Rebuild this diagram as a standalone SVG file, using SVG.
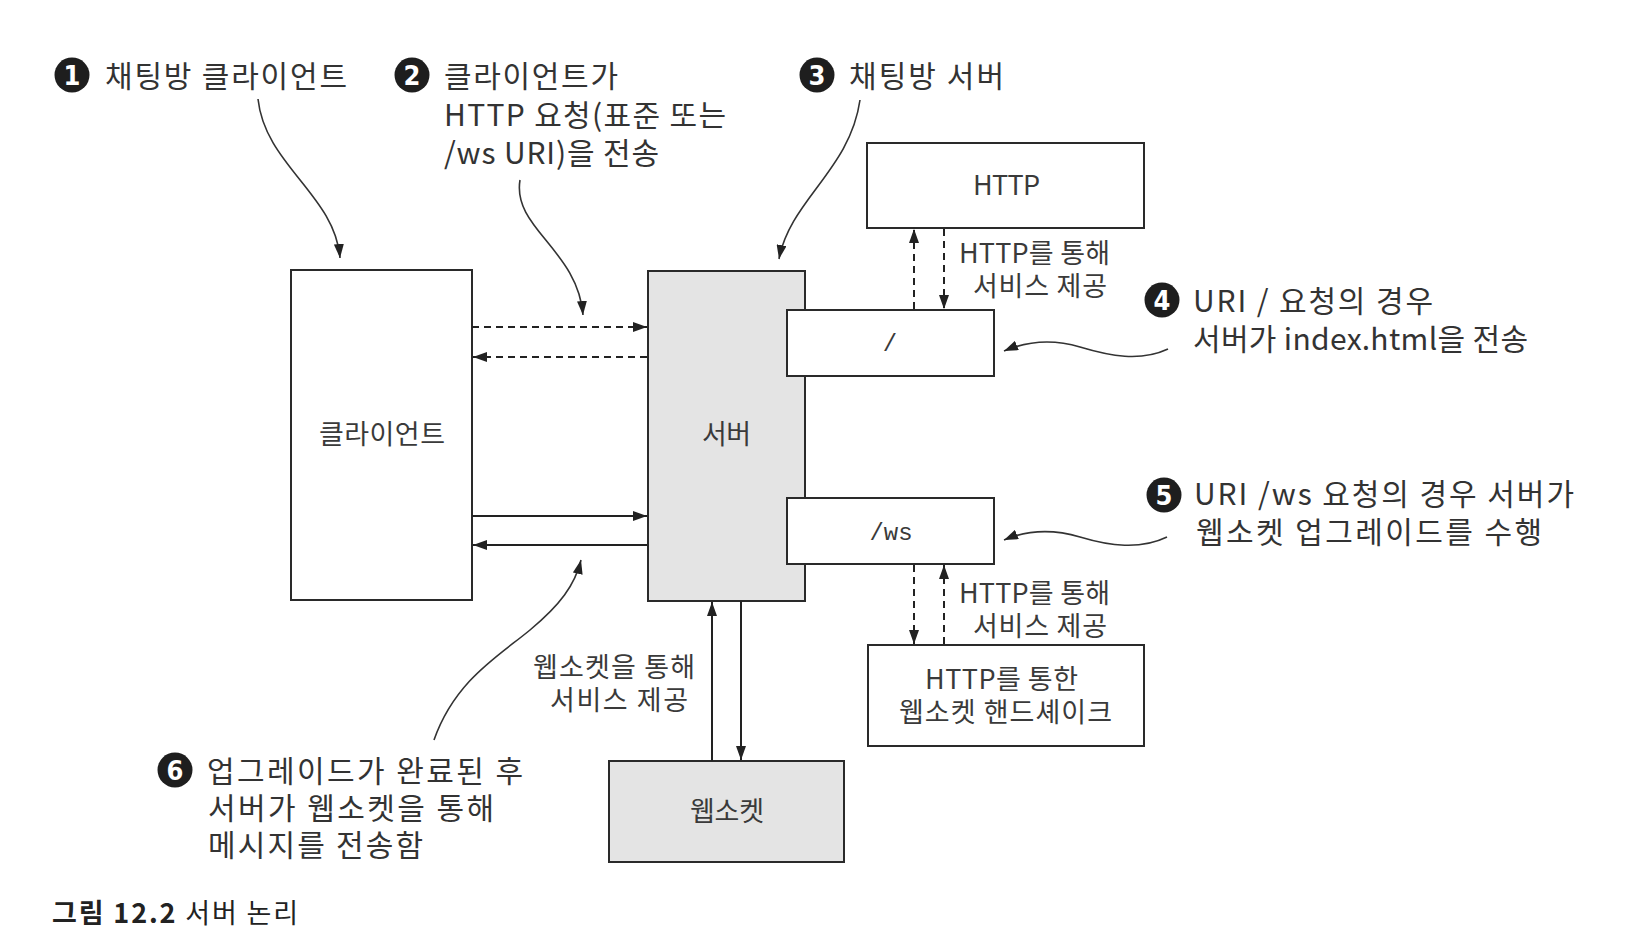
<svg xmlns="http://www.w3.org/2000/svg" width="1640" height="944" viewBox="0 0 1640 944">
  <defs>
    <marker id="arrow" viewBox="0 0 14 10" refX="14" refY="5" markerWidth="14" markerHeight="10" markerUnits="userSpaceOnUse" orient="auto">
      <path d="M0,0 L14,5 L0,10 z" fill="#222"/>
    </marker>
    <style>
      .box { fill: #ffffff; stroke: #2a2a2a; stroke-width: 2; }
      .shaded { fill: #e4e4e4; stroke: #2a2a2a; stroke-width: 2; }
      .label { font-family: "Noto Sans CJK KR", "Noto Sans", sans-serif; font-size: 27px; fill: #3a3a3a; }
      .mono { font-family: "Liberation Mono", "DejaVu Sans Mono", monospace; font-size: 24px; fill: #3a3a3a; }
      .note { font-family: "Noto Sans CJK KR", "Noto Sans", sans-serif; font-size: 30px; fill: #333333; }
      .badge { fill: #1e1e1e; }
      .badge-num { font-family: "DejaVu Sans Condensed", "Liberation Sans", Arial, sans-serif; font-size: 27px; font-weight: bold; fill: #ffffff; }
      .link { fill: none; stroke: #222; stroke-width: 2; }
      .dash { fill: none; stroke: #222; stroke-width: 2; stroke-dasharray: 7 5; }
      .callout { fill: none; stroke: #333; stroke-width: 1.6; }
      .caption { font-family: "Noto Sans CJK KR", "Noto Sans", sans-serif; font-size: 27px; fill: #222; }
    </style>
  </defs>

  <rect width="1640" height="944" fill="#ffffff"/>

  <!-- nodes -->
  <g id="client">
    <rect class="box" x="291" y="270" width="181" height="330"/>
    <text class="label" x="319" y="444" textLength="126">클라이언트</text>
  </g>

  <g id="server">
    <rect class="shaded" x="648" y="271" width="157" height="330"/>
    <text class="label" x="702" y="444" textLength="49">서버</text>
  </g>

  <g id="route-root">
    <rect class="box" x="787" y="310" width="207" height="66"/>
    <text class="mono" x="890" y="351" text-anchor="middle">/</text>
  </g>

  <g id="route-ws">
    <rect class="box" x="787" y="498" width="207" height="66"/>
    <text class="mono" x="891" y="540" text-anchor="middle">/ws</text>
  </g>

  <g id="http">
    <rect class="box" x="867" y="143" width="277" height="85"/>
    <text class="label" x="973" y="195" textLength="67">HTTP</text>
  </g>

  <g id="handshake">
    <rect class="box" x="868" y="645" width="276" height="101"/>
    <text class="label" x="925" y="689" textLength="153">HTTP를 통한</text>
    <text class="label" x="899" y="722" textLength="213">웹소켓 핸드셰이크</text>
  </g>

  <g id="websocket">
    <rect class="shaded" x="609" y="761" width="235" height="101"/>
    <text class="label" x="690" y="821" textLength="74">웹소켓</text>
  </g>

  <!-- connectors -->
  <g id="connectors">
    <!-- client <-> server over HTTP -->
    <line class="dash" x1="472" y1="327" x2="647" y2="327" marker-end="url(#arrow)"/>
    <line class="dash" x1="647" y1="357" x2="473" y2="357" marker-end="url(#arrow)"/>
    <!-- client <-> server over websocket -->
    <line class="link" x1="472" y1="516" x2="647" y2="516" marker-end="url(#arrow)"/>
    <line class="link" x1="647" y1="545" x2="473" y2="545" marker-end="url(#arrow)"/>

    <!-- "/" route <-> HTTP -->
    <line class="dash" x1="914" y1="309" x2="914" y2="229" marker-end="url(#arrow)"/>
    <line class="dash" x1="944" y1="229" x2="944" y2="309" marker-end="url(#arrow)"/>
    <text class="label" x="959" y="263" textLength="151">HTTP를 통해</text>
    <text class="label" x="973" y="296" textLength="134">서비스 제공</text>

    <!-- "/ws" route <-> handshake -->
    <line class="dash" x1="914" y1="565" x2="914" y2="644" marker-end="url(#arrow)"/>
    <line class="dash" x1="944" y1="644" x2="944" y2="565" marker-end="url(#arrow)"/>
    <text class="label" x="959" y="603" textLength="151">HTTP를 통해</text>
    <text class="label" x="973" y="636" textLength="134">서비스 제공</text>

    <!-- server <-> websocket -->
    <line class="link" x1="712" y1="761" x2="712" y2="602" marker-end="url(#arrow)"/>
    <line class="link" x1="741" y1="601" x2="741" y2="760" marker-end="url(#arrow)"/>
    <text class="label" x="533" y="677" textLength="162">웹소켓을 통해</text>
    <text class="label" x="550" y="710" textLength="138">서비스 제공</text>

    <!-- callout pointers -->
    <path class="callout" d="M258,99 C265,165 335,195 340,258" marker-end="url(#arrow)"/>
    <path class="callout" d="M520,180 C512,228 578,250 583,315" marker-end="url(#arrow)"/>
    <path class="callout" d="M860,100 C850,170 790,200 779,259" marker-end="url(#arrow)"/>
    <path class="callout" d="M1168,349 C1140,362 1110,356 1080,347 C1050,338 1025,342 1004,351" marker-end="url(#arrow)"/>
    <path class="callout" d="M1167,537 C1140,550 1110,546 1080,537 C1050,528 1025,531 1004,540" marker-end="url(#arrow)"/>
    <path class="callout" d="M434,740 C455,680 500,655 530,630 C560,605 575,585 581,560" marker-end="url(#arrow)"/>
  </g>

  <!-- numbered notes -->
  <g id="note1">
    <circle class="badge" cx="72" cy="75" r="17.5"/>
    <text class="badge-num" x="72" y="85" text-anchor="middle">1</text>
    <text class="note" x="105" y="87" textLength="242">채팅방 클라이언트</text>
  </g>

  <g id="note2">
    <circle class="badge" cx="412" cy="75" r="17.5"/>
    <text class="badge-num" x="412" y="85" text-anchor="middle">2</text>
    <text class="note" x="444" y="87" textLength="174">클라이언트가</text>
    <text class="note" x="444" y="126" textLength="282">HTTP 요청(표준 또는</text>
    <text class="note" x="444" y="164" textLength="215">/ws URI)을 전송</text>
  </g>

  <g id="note3">
    <circle class="badge" cx="817" cy="75" r="17.5"/>
    <text class="badge-num" x="817" y="85" text-anchor="middle">3</text>
    <text class="note" x="849" y="87" textLength="155">채팅방 서버</text>
  </g>

  <g id="note4">
    <circle class="badge" cx="1162" cy="300" r="17.5"/>
    <text class="badge-num" x="1162" y="310" text-anchor="middle">4</text>
    <text class="note" x="1193" y="312" textLength="240">URI / 요청의 경우</text>
    <text class="note" x="1193" y="350" textLength="335">서버가 index.html을 전송</text>
  </g>

  <g id="note5">
    <circle class="badge" cx="1164" cy="495" r="17.5"/>
    <text class="badge-num" x="1164" y="505" text-anchor="middle">5</text>
    <text class="note" x="1194" y="505" textLength="380">URI /ws 요청의 경우 서버가</text>
    <text class="note" x="1196" y="543" textLength="346">웹소켓 업그레이드를 수행</text>
  </g>

  <g id="note6">
    <circle class="badge" cx="175" cy="770" r="17.5"/>
    <text class="badge-num" x="175" y="780" text-anchor="middle">6</text>
    <text class="note" x="207" y="782" textLength="316">업그레이드가 완료된 후</text>
    <text class="note" x="208" y="819" textLength="286">서버가 웹소켓을 통해</text>
    <text class="note" x="208" y="856" textLength="215">메시지를 전송함</text>
  </g>

  <!-- figure caption -->
  <g id="caption">
    <text class="caption" x="52" y="923" textLength="246"><tspan font-weight="bold">그림 12.2</tspan> 서버 논리</text>
  </g>
</svg>
